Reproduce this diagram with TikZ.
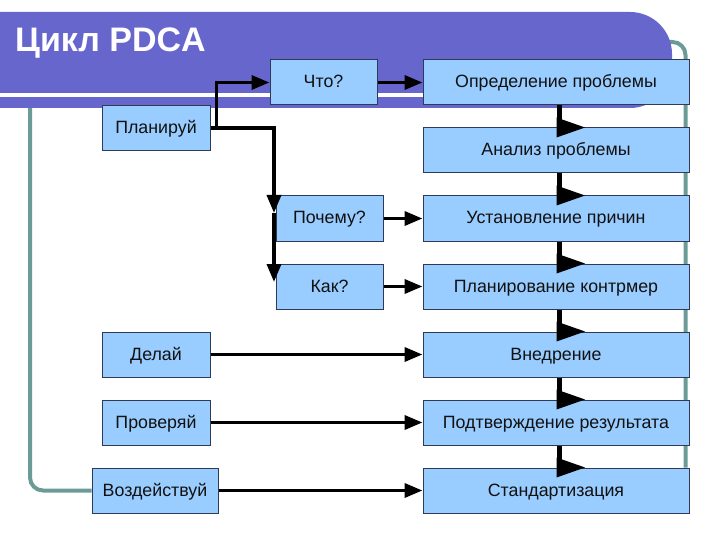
\documentclass[tikz,border=0pt]{standalone}
\usepackage{fontspec}
\setmainfont{Liberation Sans}
\usetikzlibrary{arrows.meta,calc,backgrounds}
\definecolor{ink}{HTML}{111111}
\definecolor{banner}{HTML}{6666CC}
\definecolor{kastenblau}{HTML}{99CCFF}
\definecolor{kastenrand}{HTML}{2E3A56}
\definecolor{schleife}{HTML}{6A9B97}
\newcommand{\htitel}{\fontsize{34}{38}\selectfont\bfseries}
\newcommand{\lbl}{\fontsize{17.8}{20}\selectfont}
\tikzset{kasten/.style={draw=kastenrand,line width=1pt,fill=kastenblau,inner sep=0,
    minimum height=45pt,text height=14pt,text depth=3pt,text=ink,font=\lbl},
  breit/.style={kasten,minimum width=266pt},
  pfeil/.style={line width=3.5pt,-{Triangle[length=18pt,width=14pt]}},
  rueckweg/.style={schleife,line width=4pt,rounded corners=13pt}}
% senkrechte Stufe zwischen zwei breiten Kaesten, Spitze quer auf der Oberkante
\newcommand{\stufe}[2]{\draw[line width=5pt] ($(#1.south)+(3,0)$) -- ($(#2.north)+(3,0)$);
  \fill ($(#2.north)+(0.5,-10)$) -- ($(#2.north)+(29,0)$) -- ($(#2.north)+(0.5,10)$) -- cycle;}

\begin{document}
\begin{tikzpicture}[x=1pt,y=-1pt]
\useasboundingbox (0,0) rectangle (720,540);
% linke Spalte: Phasen, Mitte: Fragen, rechts: Schritte
\node[kasten,minimum width=108pt] (plan) at (156,128) {Планируй};
\node[kasten,minimum width=108pt] (tu) at (156,354.5) {Делай};
\node[kasten,minimum width=108pt] (pruef) at (156,422.5) {Проверяй};
\node[kasten,minimum width=126pt] (handeln) at (155,490.5) {Воздействуй};
\node[kasten,minimum width=107pt] (was) at (323.5,82.5) {Что?};
\node[kasten,minimum width=107pt] (warum) at (329.5,218.5) {Почему?};
\node[kasten,minimum width=107pt] (wie) at (329.5,286.5) {Как?};
\node[breit] (def) at (556,82.5) {Определение проблемы};
\node[breit] (anal) at (556,150.5) {Анализ проблемы};
\node[breit] (ursache) at (556,218.5) {Установление причин};
\node[breit] (gegen) at (556,286.5) {Планирование контрмер};
\node[breit] (einf) at (556,354.5) {Внедрение};
\node[breit] (bestaet) at (556,422.5) {Подтверждение результата};
\node[breit] (standard) at (556,490.5) {Стандартизация};
\begin{scope}[on background layer]
  \draw[rueckweg] (handeln.west) -| (30,42) -| ($(standard.north east)+(-4,0)$);
  \fill[banner,rounded corners=42pt] (-60,12) rectangle (672,108);
  \fill[white] (0,93.5) rectangle (660,97);
\end{scope}
\node[anchor=base west,inner sep=0,text=white,font=\htitel] (titel) at (15,52) {Цикл PDCA};
\coordinate (zu1) at (274,213);
\coordinate (zu2) at (274,282);
\draw[pfeil] (plan.east) -- ++(6,0) |- (was.west);
\draw[pfeil] (plan.east) -| (zu1);
\draw[pfeil] (zu1) -- (zu2);
\draw[pfeil] (was) -- (def);
\draw[pfeil] (warum) -- (ursache);
\draw[pfeil] (wie) -- (gegen);
\draw[pfeil] (tu) -- (einf);
\draw[pfeil] (pruef) -- (bestaet);
\draw[pfeil] (handeln) -- (standard);
\stufe{def}{anal}
\stufe{anal}{ursache}
\stufe{ursache}{gegen}
\stufe{gegen}{einf}
\stufe{einf}{bestaet}
\stufe{bestaet}{standard}
\end{tikzpicture}
\end{document}
